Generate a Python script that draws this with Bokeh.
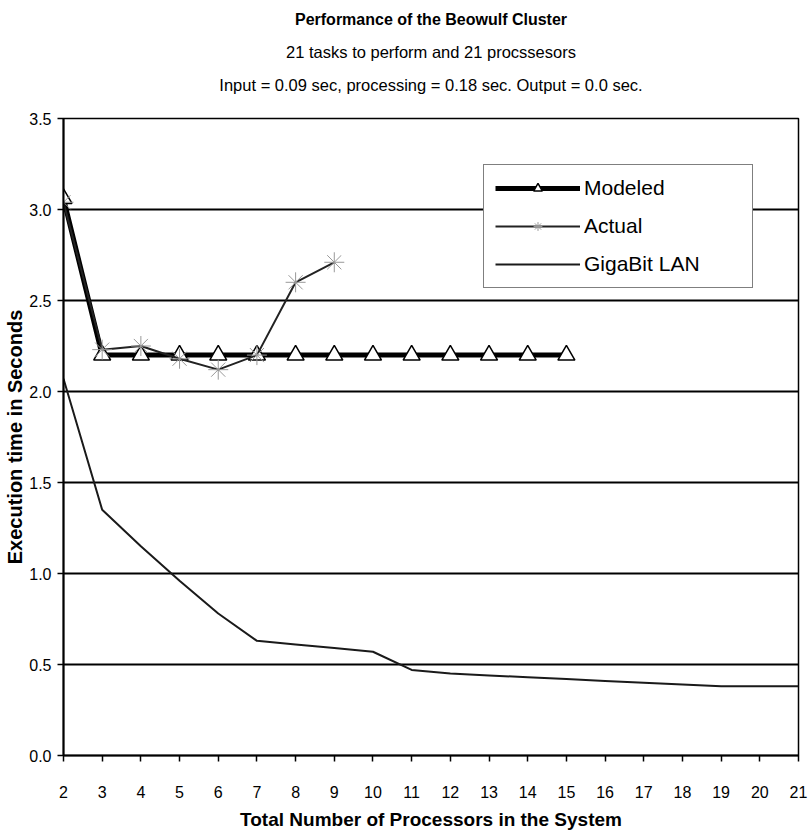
from bokeh.plotting import figure
from bokeh.models import Title, Legend, LegendItem, FixedTicker, NumeralTickFormatter, Range1d
from bokeh.embed import file_html
from bokeh.resources import INLINE

# ---- data ----
processors = list(range(2, 22))
modeled_x = list(range(2, 16))
modeled_y = [3.06, 2.2, 2.2, 2.2, 2.2, 2.2, 2.2, 2.2, 2.2, 2.2, 2.2, 2.2, 2.2, 2.2]
actual_x = [2, 3, 4, 5, 6, 7, 8, 9]
actual_y = [3.04, 2.23, 2.25, 2.18, 2.12, 2.2, 2.6, 2.71]
lan_x = processors
lan_y = [2.07, 1.35, 1.15, 0.96, 0.78, 0.63, 0.61, 0.59, 0.57, 0.47,
         0.45, 0.44, 0.43, 0.42, 0.41, 0.40, 0.39, 0.38, 0.38, 0.38]
y_ticks = [0.0, 0.5, 1.0, 1.5, 2.0, 2.5, 3.0, 3.5]

title_1 = "Performance of the Beowulf Cluster"
title_2 = "21 tasks to perform and 21 procssesors"
title_3 = "Input = 0.09 sec, processing = 0.18 sec. Output = 0.0 sec."
x_title = "Total Number of Processors in the System"
y_title = "Execution time in Seconds"

FONT = "Liberation Sans, Arial, sans-serif"

p = figure(width=808, height=836, output_backend="svg", toolbar_location=None,
           x_range=Range1d(2, 21), y_range=Range1d(0, 3.5),
           min_border_left=63, min_border_right=10, min_border_top=118, min_border_bottom=81)
p.title = None

# titles (added nearest-first); a thin blank spacer sits next to the frame
p.add_layout(Title(text=" ", text_font_size="2px", standoff=14), "above")
p.add_layout(Title(text=title_3, align="center", offset=-10, standoff=13,
                   text_font=FONT, text_font_size="16.5px", text_font_style="normal",
                   text_color="black"), "above")
p.add_layout(Title(text=title_2, align="center", offset=-10, standoff=13,
                   text_font=FONT, text_font_size="16.5px", text_font_style="normal",
                   text_color="black"), "above")
p.add_layout(Title(text=title_1, align="center", offset=-10, standoff=13,
                   text_font=FONT, text_font_size="16px", text_font_style="bold",
                   text_color="black"), "above")

p.background_fill_color = "white"
p.border_fill_color = "white"
p.outline_line_color = "black"
p.outline_line_width = 1.5

p.xgrid.grid_line_color = None
p.ygrid.grid_line_color = "black"
p.ygrid.grid_line_width = 2
p.ygrid.ticker = FixedTicker(ticks=y_ticks)

# axes
p.xaxis.ticker = FixedTicker(ticks=processors)
p.xaxis.axis_label = x_title
p.xaxis.axis_label_text_font = FONT
p.xaxis.axis_label_text_font_size = "19px"
p.xaxis.axis_label_text_font_style = "bold"
p.xaxis.axis_label_text_color = "black"
p.xaxis.axis_label_standoff = 8
p.xaxis.major_label_text_font = FONT
p.xaxis.major_label_text_font_size = "16px"
p.xaxis.major_label_text_color = "black"
p.xaxis.major_label_standoff = 24
p.xaxis.major_tick_out = 6
p.xaxis.major_tick_in = 0
p.xaxis.minor_tick_line_color = None
p.xaxis.axis_line_color = "black"
p.xaxis.axis_line_width = 2
p.xaxis.major_tick_line_color = "black"
p.xaxis.major_tick_line_width = 1.5

p.yaxis.ticker = FixedTicker(ticks=y_ticks)
p.yaxis.formatter = NumeralTickFormatter(format="0.0")
p.yaxis.axis_label = y_title
p.yaxis.axis_label_text_font = FONT
p.yaxis.axis_label_text_font_size = "20px"
p.yaxis.axis_label_text_font_style = "bold"
p.yaxis.axis_label_text_color = "black"
p.yaxis.axis_label_standoff = 0
p.yaxis.major_label_text_font = FONT
p.yaxis.major_label_text_font_size = "16px"
p.yaxis.major_label_text_color = "black"
p.yaxis.major_label_standoff = 6
p.yaxis.major_tick_out = 6
p.yaxis.major_tick_in = 0
p.yaxis.minor_tick_line_color = None
p.yaxis.axis_line_color = "black"
p.yaxis.axis_line_width = 2
p.yaxis.major_tick_line_color = "black"
p.yaxis.major_tick_line_width = 1.5

# series
lan_line = p.line(lan_x, lan_y, line_color="#1a1a1a", line_width=2)

mod_line = p.line(modeled_x, modeled_y, line_color="black", line_width=5)
mod_pts = p.scatter(modeled_x, modeled_y, marker="triangle", size=17,
                    fill_color="white", line_color="black", line_width=1.5)

act_line = p.line(actual_x, actual_y, line_color="#222222", line_width=2)
act_pts = p.scatter(actual_x, actual_y, marker="asterisk", size=20,
                    line_color="#999999", line_width=1)

legend = Legend(items=[
    LegendItem(label="Modeled", renderers=[mod_line, mod_pts]),
    LegendItem(label="Actual", renderers=[act_line, act_pts]),
    LegendItem(label="GigaBit LAN", renderers=[lan_line]),
], location=(420, 467))
legend.label_text_font = FONT
legend.label_text_font_size = "21px"
legend.label_text_color = "black"
legend.glyph_width = 85
legend.glyph_height = 22
legend.label_height = 22
legend.label_width = 157
legend.label_standoff = 4
legend.spacing = 14
legend.padding = 11
legend.margin = 0
legend.border_line_color = "black"
legend.border_line_width = 1.5
legend.background_fill_color = "white"
legend.background_fill_alpha = 1
p.add_layout(legend, "center")

open("out.html", "w").write(file_html(p, INLINE))
